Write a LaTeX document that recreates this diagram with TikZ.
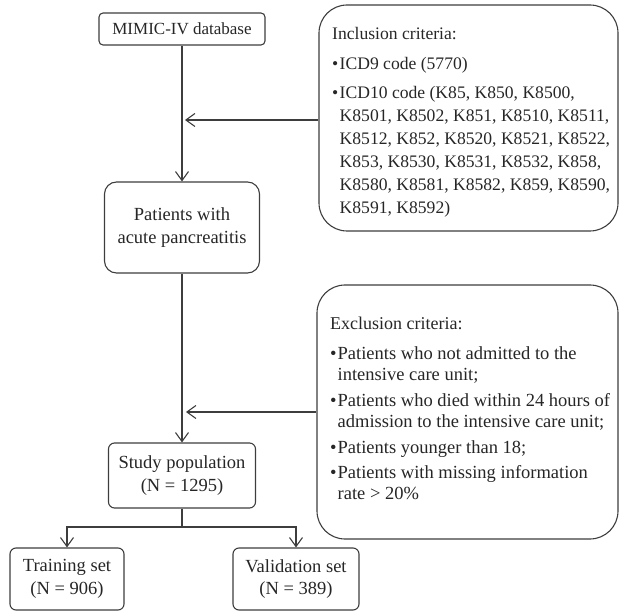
\documentclass[tikz,border=0pt]{standalone}
\usepackage{fontspec}
\setmainfont{Liberation Serif}
\usetikzlibrary{arrows.meta}
\definecolor{linec}{HTML}{3D3D3D}
\definecolor{textc}{HTML}{262626}
\newcommand{\fsz}[2]{\fontsize{#1}{#2}\selectfont}
\newcommand{\mybul}{\makebox[7.5pt][l]{\textbullet}}
\newcommand{\myind}{\hspace*{7.5pt}}
\tikzset{
  box/.style={draw=linec, line width=1.1pt, text=textc, align=center, inner sep=0pt, font=\fsz{18.5}{22.5}},
  bigbox/.style={draw=linec, line width=1.1pt, rounded corners=28pt, inner sep=0pt},
  txt/.style={text=textc, align=left, inner sep=0pt, anchor=base west},
  conn/.style={draw=linec, line width=1.1pt},
  arr/.style={conn, -{Straight Barb[length=9pt,width=13pt,line width=1.1pt]}}
}
\begin{document}
\begin{tikzpicture}[x=1pt,y=-1pt]
\useasboundingbox (0,0) rectangle (619,612);
% main column
\node[box, rounded corners=4pt, minimum width=166pt, minimum height=32pt, font=\fsz{17}{20}] (mimic) at (182,29) {MIMIC-IV database};
\node[box, rounded corners=12pt, minimum width=155pt, minimum height=91pt] (pat) at (182,227.5) {Patients with\\acute pancreatitis};
\node[box, rounded corners=6pt, minimum width=147pt, minimum height=65pt] (study) at (182,475.5) {Study population\\(N = 1295)};
\node[box, rounded corners=6pt, minimum width=114pt, minimum height=62pt] (train) at (67,579) {Training set\\(N = 906)};
\node[box, rounded corners=6pt, minimum width=126pt, minimum height=62pt] (valid) at (296,579) {Validation set\\(N = 389)};
% criteria boxes (text anchored at the baseline of its last line)
\node[bigbox, minimum width=299pt, minimum height=226pt] (incl) at (468.5,118) {};
\node[txt, font=\fsz{17.6}{23}] (incltxt) at (332,214) {Inclusion criteria:\\[7pt]
\mybul ICD9 code (5770)\\[6pt]
\mybul ICD10 code (K85, K850, K8500,\\
\myind K8501, K8502, K851, K8510, K8511,\\
\myind K8512, K852, K8520, K8521, K8522,\\
\myind K853, K8530, K8531, K8532, K858,\\
\myind K8580, K8581, K8582, K859, K8590,\\
\myind K8591, K8592)};
\node[bigbox, minimum width=301pt, minimum height=254pt] (excl) at (467.5,412) {};
\node[txt, font=\fsz{18.5}{21}] (excltxt) at (330,500) {{\fsz{18}{21}Exclusion criteria:}\\[9pt]
\mybul Patients who not admitted to the\\
\myind intensive care unit;\\[5pt]
\mybul Patients who died within 24 hours of\\
\myind admission to the intensive care unit;\\[5pt]
\mybul Patients younger than 18;\\[5pt]
\mybul Patients with missing information\\
\myind rate > 20\%};
% junctions
\coordinate (j1) at (185,120);
\coordinate (j2) at (186,412);
\coordinate (split) at (182,527);
% connectors
\draw[arr] (mimic.south) -- (mimic.south |- pat.north);
\draw[arr] (incl.west |- j1) -- (j1);
\draw[arr] (pat.south) -- (pat.south |- study.north);
\draw[arr] (excl.west |- j2) -- (j2);
\draw[conn] (study.south) -- (split);
\draw[arr] (split) -| (train.north);
\draw[arr] (split) -| (valid.north);
\end{tikzpicture}
\end{document}
